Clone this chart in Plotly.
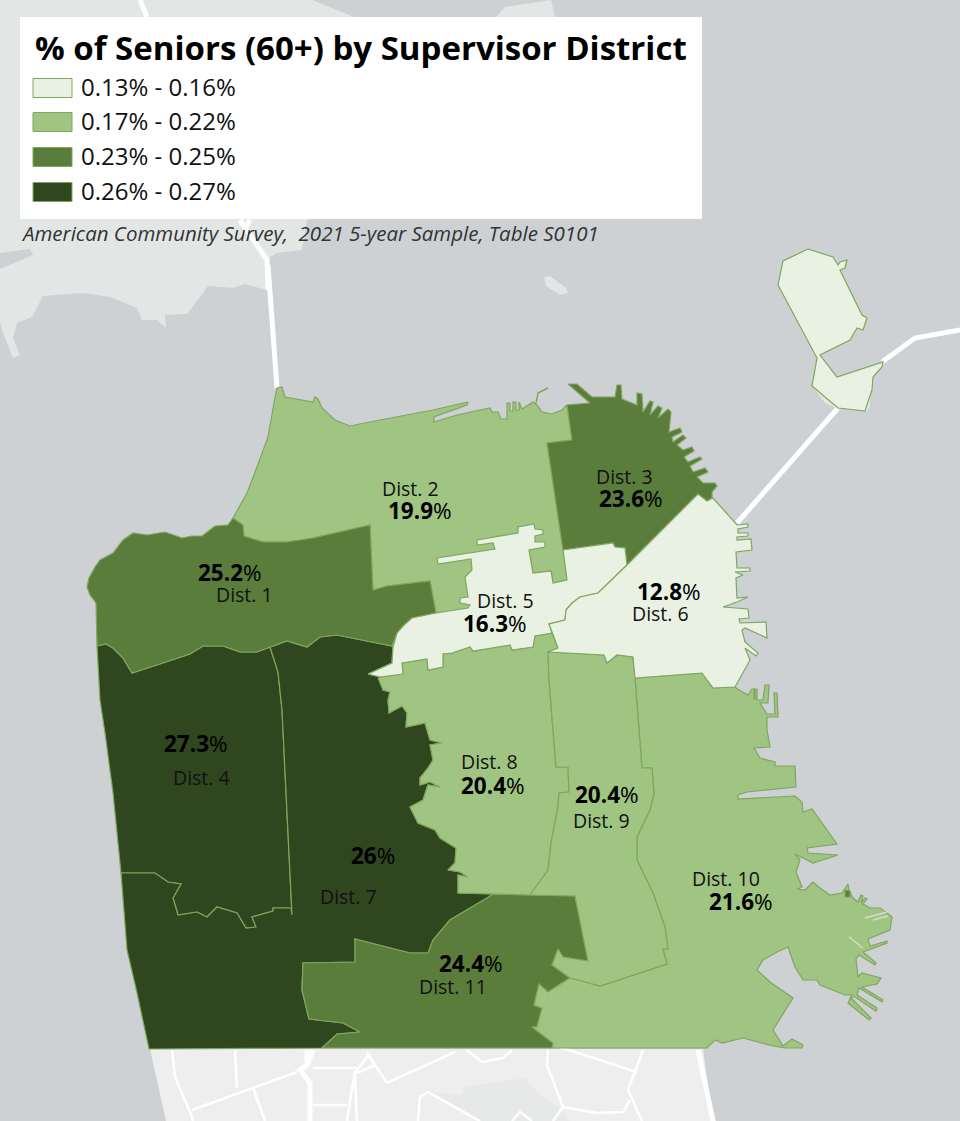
import plotly.graph_objects as go

# colours per legend class
class_colors = ["#e9f2e2", "#a0c482", "#5a7d3b", "#30461f"]
class_labels = ["0.13% - 0.16%", "0.17% - 0.22%", "0.23% - 0.25%", "0.26% - 0.27%"]
title = "% of Seniors (60+) by Supervisor District"
source = "American Community Survey,  2021 5-year Sample, Table S0101"

# district outlines (map is in image pixels, y down)
d4 = [(97,646),(106,644),(113,648),(123,658),(132,673),(163,663),(190,654),(203,646),(223,646),(240,652),(257,652),(270,647),
      (278,672),(282,710),(292,915),(291,908),(273,908),(273,911),(252,917),(256,927),(246,928),(237,913),(217,907),(207,917),
      (197,912),(178,915),(173,898),(181,884),(168,882),(155,873),(121,873),(117,833),(113,793),(105,733),(100,700)]
d7 = [(270,647),(287,641),(307,647),(320,637),(337,635),(363,640),(392,646),(393,647),(392,663),(368,674),(380,677),(383,690),
      (390,692),(388,700),(389,713),(402,706),(407,713),(406,727),(425,723),(430,740),(442,743),(430,745),(433,760),(428,768),
      (420,778),(420,785),(430,782),(440,787),(428,785),(423,800),(410,807),(418,823),(435,830),(440,838),(456,848),(455,863),
      (448,870),(460,872),(468,877),(458,875),(458,893),(493,894),(487,898),(450,920),(433,940),(428,953),(410,953),(355,939),
      (355,962),(303,963),(302,990),(309,1019),(343,1023),(360,1032),(337,1034),(322,1048),(149,1049),(137,993),(127,950),
      (121,873),(155,873),(168,882),(181,884),(173,898),(178,915),(197,912),(207,917),(217,907),(237,913),(246,928),(256,927),
      (252,917),(273,911),(273,908),(291,908),(292,915),(282,710),(278,672)]
d11 = [(493,894),(530,895),(575,896),(588,961),(563,957),(558,949),(552,965),(570,978),(548,992),(539,984),(534,1005),(542,1008),
       (537,1027),(532,1027),(553,1043),(552,1048),(322,1048),(337,1034),(360,1032),(343,1023),(309,1019),(302,990),(303,963),
       (355,962),(355,939),(410,953),(428,953),(433,940),(450,920),(487,898)]
d1 = [(233,518),(243,525),(244,536),(263,542),(287,542),(313,538),(370,525),(373,590),(387,586),(430,581),(436,613),(412,618),
      (403,626),(397,633),(392,646),(363,640),(337,635),(320,637),(307,647),(287,641),(270,647),(257,652),(240,652),(223,646),
      (203,646),(190,654),(163,663),(132,673),(123,658),(113,648),(106,644),(97,646),(96,603),(90,595),(87,587),(89,578),(95,567),
      (100,560),(113,553),(123,540),(133,533),(147,535),(165,532),(182,538),(192,536),(202,536),(215,526),(228,525)]
d2 = [(233,518),(247,493),(257,467),(268,437),(274,403),(277,388),(282,387),(285,397),(313,402),(315,397),(318,399),(322,408),
      (335,420),(350,426),(380,420),(433,410),(468,402),(467,405),(434,417),(434,422),(457,415),(490,408),(492,412),(498,412),
      (501,419),(507,419),(507,403),(510,403),(510,411),(513,411),(513,402),(516,402),(516,410),(519,410),(519,402),(522,409),
      (533,402),(537,405),(542,412),(552,414),(562,410),(567,405),(572,440),(547,443),(563,550),(567,580),(553,583),(551,571),
      (533,573),(529,550),(529,536),(497,536),(497,552),(480,552),(480,607),(436,613),(430,581),(387,586),(373,590),(370,525),
      (313,538),(287,542),(263,542),(244,536),(243,525)]
aquatic_arc = [(536,403),(538,393),(548,388)]
d3 = [(547,443),(572,440),(567,405),(590,403),(568,384),(577,384),(592,397),(615,397),(617,385),(621,385),(622,399),(637,405),
      (637,393),(642,394),(643,412),(650,401),(653,402),(650,415),(658,406),(662,408),(658,418),(668,409),(671,412),(669,432),
      (680,428),(682,432),(672,437),(673,442),(683,435),(686,438),(677,445),(683,450),(692,447),(694,451),(684,457),(688,462),
      (700,457),(702,459),(690,466),(693,472),(705,468),(708,472),(697,477),(703,483),(715,483),(717,486),(712,492),(712,498),
      (707,501),(698,494),(627,565),(625,548),(615,547),(613,543),(563,550)]
d8 = [(378,678),(380,677),(403,674),(402,663),(427,659),(428,670),(443,667),(443,654),(452,653),(470,647),(473,651),(510,645),
      (512,650),(533,647),(535,636),(552,633),(558,648),(548,652),(549,680),(556,767),(568,767),(569,792),(559,793),(558,807),
      (551,843),(548,870),(530,895),(493,894),(458,893),(458,875),(468,877),(460,872),(448,870),(455,863),(456,848),(440,838),
      (435,830),(418,823),(410,807),(423,800),(428,785),(440,787),(430,782),(420,785),(420,778),(428,768),(433,760),(430,745),
      (442,743),(430,740),(425,723),(406,727),(407,713),(402,706),(389,713),(388,700),(390,692),(383,690)]
d9 = [(548,652),(604,655),(607,663),(617,655),(633,657),(635,678),(642,768),(652,768),(654,793),(650,810),(637,837),(637,860),
      (653,893),(665,927),(668,949),(663,949),(667,964),(600,986),(578,980),(570,978),(552,965),(558,949),(563,957),(588,961),
      (575,896),(530,895),(548,870),(551,843),(558,807),(559,793),(569,792),(568,767),(556,767),(549,680)]
d10 = [(635,678),(702,673),(713,688),(735,687),(739,690),(748,695),(752,689),(754,689),(754,699),(755,699),(755,689),(757,689),
       (757,700),(763,700),(765,685),(769,685),(768,703),(760,703),(767,714),(775,714),(774,693),(777,693),(778,717),(767,717),
       (767,730),(770,747),(754,748),(760,758),(775,762),(775,766),(795,766),(796,787),(747,792),(738,795),(738,799),
       (795,796),(802,802),(803,812),(812,809),(837,844),(807,848),(808,853),(838,855),(813,863),(795,854),(800,860),(796,872),
       (802,887),(797,889),(805,890),(813,882),(820,888),(830,895),(842,893),(848,884),(849,890),(853,898),(858,902),(861,895),
       (863,896),(861,903),(865,898),(867,899),(863,904),(870,908),(880,908),(887,913),(892,917),(890,930),(868,939),(870,946),
       (887,941),(887,943),(870,949),(863,952),(876,963),(875,965),(859,955),(856,959),(858,977),(862,973),(881,978),(877,984),
       (862,987),(883,1000),(882,1002),(859,988),(857,995),(877,1008),(876,1011),(855,997),(850,997),(871,1018),(869,1020),
       (848,1003),(852,995),(845,995),(820,985),(817,980),(803,980),(795,967),(788,947),(777,952),(763,960),
       (757,970),(770,982),(793,998),(773,1030),(783,1046),(792,1039),(803,1045),(802,1048),(785,1048),(773,1046),(743,1038),
       (722,1043),(715,1040),(707,1048),(553,1048),(553,1043),(532,1027),(537,1027),(542,1008),(534,1005),(539,984),(548,992),
       (570,978),(578,980),(600,986),(667,964),(663,949),(668,949),(665,927),(653,893),(637,860),(637,837),(650,810),(654,793),
       (652,768),(642,768)]
d5 = [(368,674),(392,663),(393,647),(397,633),(403,626),(412,618),(436,613),(468,608),(470,605),(460,603),(460,598),(468,597),
      (465,577),(472,570),(471,559),(438,564),(437,558),(495,549),(493,543),(477,545),(477,540),(518,533),(518,527),(534,524),
      (535,529),(543,530),(543,534),(535,536),(535,542),(545,542),(545,547),(529,550),(533,573),(551,571),(553,583),(567,580),
      (563,550),(613,543),(615,547),(625,548),(627,565),(598,593),(580,597),(572,603),(566,610),(565,620),(549,624),(552,633),
      (535,636),(533,647),(512,650),(510,645),(473,651),(470,647),(452,653),(443,654),(443,667),(428,670),(427,659),(402,663),
      (403,674),(380,677)]
d6 = [(698,494),(707,501),(713,498),(737,525),(748,524),(748,527),(738,529),(738,533),(748,533),(748,536),(737,537),(737,540),
      (751,539),(752,550),(736,552),(737,568),(750,568),(750,571),(735,572),(743,575),(736,578),(737,598),(748,597),(737,602),
      (723,607),(748,609),(749,618),(739,619),(740,623),(766,622),(767,638),(745,628),(742,630),(745,642),(758,653),(756,656),
      (745,648),(750,660),(735,687),(713,688),(702,673),(635,678),(633,657),(617,655),(607,663),(604,655),(548,652),(558,648),
      (549,624),(565,620),(566,610),(572,603),(580,597),(598,593),(627,565)]
treasure_island = [(808,249),(833,257),(838,265),(840,262),(847,260),(845,268),(840,270),(862,315),(867,318),(863,330),(857,328),
                   (850,340),(820,355),(837,377),(883,362),(882,367),(873,377),(872,390),(865,411),(838,408),(812,386),(817,358),
                   (778,285),(783,261)]
d10_patch = [(845,890),(850,891),(850,897),(845,897)]
d10_slits = [[(865,918),(887,912)], [(873,920),(888,916)], [(849,937),(863,948)]]

# draw order, class index, name
districts = [("Dist. 4", d4, 3), ("Dist. 7", d7, 3), ("Dist. 11", d11, 2), ("Dist. 2", d2, 1), ("Dist. 1", d1, 2),
             ("Dist. 8", d8, 1), ("Dist. 10", d10, 1), ("Dist. 9", d9, 1), ("Dist. 3", d3, 2), ("Dist. 5", d5, 0),
             ("Dist. 6", d6, 0), ("Treasure Island", treasure_island, 0), ("Dist. 10 patch", d10_patch, 2)]

# labels: name, name position, value, value position
dist_names = ["Dist. 1", "Dist. 2", "Dist. 3", "Dist. 4", "Dist. 5", "Dist. 6", "Dist. 7", "Dist. 8", "Dist. 9", "Dist. 10", "Dist. 11"]
dist_values = ["25.2", "19.9", "23.6", "27.3", "16.3", "12.8", "26", "20.4", "20.4", "21.6", "24.4"]
name_pos = [(244,594),(410,488),(624,476),(201,777),(505,600),(660,613),(348,896),(489,761),(601,820),(726,878),(453,986)]
value_pos = [(230,572),(420,510),(631,498),(196,743),(495,623),(669,591),(373,855),(493,785),(607,794),(741,901),(471,963)]

# basemap
marin = [(0,0),(312,0),(354,17),(354,200),(307,220),(302,250),(277,253),(270,257),(267,290),(245,284),(233,288),(208,286),(200,297),
         (187,314),(165,315),(166,328),(157,320),(142,320),(137,308),(110,297),(83,293),(43,296),(32,317),(17,323),(13,338),(20,355),
         (13,358),(3,333),(0,322),(0,269),(33,255),(30,249),(0,253)]
north_spit = [(496,17),(505,7),(551,0),(555,17)]
alcatraz = [(544,277),(550,276),(566,288),(568,293),(560,295),(546,286)]
yerba_buena = [(812,386),(825,403),(838,409),(866,412),(870,406),(870,388)]
south_land = [(150,1049),(703,1049),(709,1093),(716,1121),(166,1121)]
south_park = [(464,1087),(525,1078),(540,1095),(560,1108),(570,1121),(480,1121),(428,1092),(462,1095)]
thick_roads = [[(268,265),(277,388)], [(240,220),(257,245),(267,260),(268,290)], [(250,220),(245,228)],
               [(737,523),(838,408)], [(882,362),(915,338),(960,330)], [(140,0),(147,17)],
               [(307,1050),(307,1065),(300,1070),(310,1083),(310,1121)], [(313,1050),(307,1065)],
               [(698,1050),(713,1121)]]
thin_roads = [[(172,1050),(175,1077),(190,1112),(193,1121)], [(192,1110),(297,1072)],
              [(313,1068),(357,1068)], [(313,1105),(347,1105)], [(357,1121),(355,1073),(370,1053)],
              [(347,1121),(355,1070)], [(357,1073),(375,1065)],
              [(367,1053),(387,1083),(455,1052)], [(418,1121),(420,1097),(428,1092),(480,1121)],
              [(467,1050),(482,1062),(503,1058),(512,1050)], [(553,1045),(637,1072)],
              [(643,1050),(628,1090),(642,1121)], [(548,1050),(547,1065),(563,1107),(553,1121)],
              [(563,1107),(597,1113),(623,1112),(630,1100)], [(512,1121),(520,1112),(532,1121)],
              [(253,1088),(265,1121)], [(235,1050),(237,1088)]]


def split_xy(pts):
    return [p[0] for p in pts], [p[1] for p in pts]


def lines_xy(lines):
    xs, ys = [], []
    for ln in lines:
        xs += [p[0] for p in ln] + [None]
        ys += [p[1] for p in ln] + [None]
    return xs, ys


fig = go.Figure()

# land under the districts
for poly in [marin, north_spit, alcatraz, yerba_buena]:
    x, y = split_xy(poly)
    fig.add_trace(go.Scatter(x=x, y=y, fill="toself", fillcolor="#e2e6e4", mode="none", hoverinfo="skip"))
x, y = split_xy(south_land)
fig.add_trace(go.Scatter(x=x, y=y, fill="toself", fillcolor="#eeeeee", mode="none", hoverinfo="skip"))
x, y = split_xy(south_park)
fig.add_trace(go.Scatter(x=x, y=y, fill="toself", fillcolor="#e6e9e7", mode="none", hoverinfo="skip"))

x, y = lines_xy(thin_roads)
fig.add_trace(go.Scatter(x=x, y=y, mode="lines", line=dict(color="white", width=2.5), hoverinfo="skip"))
x, y = lines_xy(thick_roads)
fig.add_trace(go.Scatter(x=x, y=y, mode="lines", line=dict(color="white", width=5), hoverinfo="skip"))

# districts
for name, poly, cls in districts:
    x, y = split_xy(poly)
    x.append(x[0])
    y.append(y[0])
    fig.add_trace(go.Scatter(x=x, y=y, name=name, fill="toself", fillcolor=class_colors[cls], mode="lines",
                             line=dict(color="#7fa65f", width=1.2)))
x, y = split_xy(aquatic_arc)
fig.add_trace(go.Scatter(x=x, y=y, mode="lines", line=dict(color="#7fa65f", width=1.5), hoverinfo="skip"))
x, y = lines_xy(d10_slits)
fig.add_trace(go.Scatter(x=x, y=y, mode="lines", line=dict(color="#d5dccd", width=1.5), hoverinfo="skip"))

# district labels
for i in range(len(dist_names)):
    fig.add_annotation(x=name_pos[i][0], y=name_pos[i][1], text=dist_names[i], showarrow=False,
                       font=dict(family="Open Sans", size=19.5, color="#111111"))
    fig.add_annotation(x=value_pos[i][0], y=value_pos[i][1], text="<b>" + dist_values[i] + "</b>%", showarrow=False,
                       font=dict(family="Open Sans", size=22.5, color="#000000"))

# legend box, drawn by hand like the map's own panel
fig.add_shape(type="rect", x0=20, x1=702, y0=17, y1=219, fillcolor="white", line_width=0, layer="above")
fig.add_annotation(x=33, y=47, text="<b>" + title + "</b>", showarrow=False, xanchor="left",
                   font=dict(family="Open Sans", size=33, color="#000000"))
swatch_y = [88, 122, 157, 192]
for i in range(len(class_labels)):
    fig.add_shape(type="rect", x0=33, x1=72, y0=swatch_y[i]-9.5, y1=swatch_y[i]+9.5, fillcolor=class_colors[i],
                  line=dict(color="#7fa65f", width=1), layer="above")
    fig.add_annotation(x=79, y=swatch_y[i]-1.5, text=class_labels[i], showarrow=False, xanchor="left",
                       font=dict(family="Open Sans", size=24, color="#111111"))
fig.add_annotation(x=19, y=233, text="<i>" + source + "</i>", showarrow=False, xanchor="left",
                   font=dict(family="Open Sans", size=20.5, color="#333333"))

fig.update_layout(width=960, height=1121, margin=dict(l=0, r=0, t=0, b=0), showlegend=False,
                  plot_bgcolor="#cdd1d3", paper_bgcolor="#cdd1d3")
fig.update_xaxes(range=[0, 960], visible=False, fixedrange=True)
fig.update_yaxes(range=[1121, 0], visible=False, fixedrange=True)

fig.write_html("out.html", config={"displayModeBar": False}, post_script="document.body.style.margin='0';")
